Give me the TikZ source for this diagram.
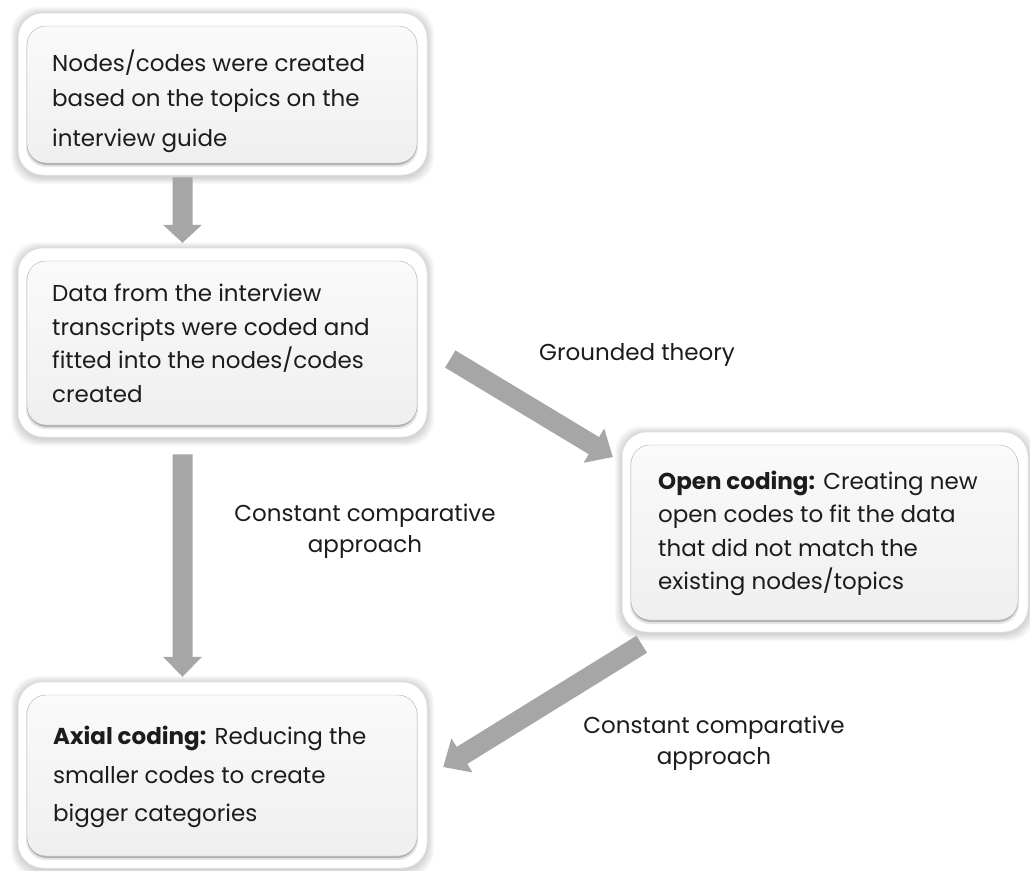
\documentclass[tikz,border=0pt]{standalone}
\usepackage{fontspec}
\setmainfont{Poppins}
\usetikzlibrary{calc}

\definecolor{arrowgray}{HTML}{A6A6A6}
\definecolor{paneltop}{HTML}{FAFAFA}
\definecolor{panelbot}{HTML}{EFEFEF}
\definecolor{inkgray}{HTML}{1C1C1C}

\tikzset{
  x=1pt, y=-1pt,
  frame/.style={rectangle, rounded corners=25pt, fill=white, draw=black!12,
    line width=0.5pt, inner sep=0pt},
  panel/.style={rectangle, rounded corners=19pt, top color=paneltop,
    bottom color=panelbot, draw=black!30, line width=0.4pt, inner sep=0pt},
  body/.style={anchor=north west, align=left, inner sep=0pt, text=inkgray},
  label/.style={align=center, inner sep=0pt, text=inkgray,
    font=\fontsize{23}{31}\selectfont},
}

% A card: soft outer glow, white frame node #1, shaded inner panel node #1p.
% Arguments: name, x1, y1, x2, y2 of the frame.
\newcommand\card[5]{%
  \foreach \g in {1,...,7}
    \fill[black, opacity=0.025, rounded corners=26pt]
      (#2-\g,#3-\g+1) rectangle (#4+\g,#5+\g+2);
  \pgfmathsetmacro\cw{#4-#2}\pgfmathsetmacro\ch{#5-#3}
  \node[frame, minimum width=\cw pt, minimum height=\ch pt] (#1)
    at ({(#2+#4)/2},{(#3+#5)/2}) {};
  \fill[black, opacity=0.10, rounded corners=20pt]
    (#2+8,#3+14) rectangle (#4-9,#5-8);
  \fill[black, opacity=0.22, rounded corners=20pt]
    (#2+9,#3+14) rectangle (#4-10,#5-10);
  \pgfmathsetmacro\pw{#4-#2-19}\pgfmathsetmacro\ph{#5-#3-25}
  \node[panel, minimum width=\pw pt, minimum height=\ph pt] (#1p)
    at ({(#2+#4)/2-0.5},{(#3+#5)/2+0.5}) {};
}

% A block arrow from #1 (tail centre) to #2 (tip); #3 head length, #4 half head width.
\newcommand\fatarrow[4]{%
  \coordinate (fa-base) at ($(#2)!#3pt!(#1)$);
  \fill[arrowgray]
    ($(#1)!10pt!90:(#2)$) -- ($(fa-base)!10pt!90:(#2)$) --
    ($(fa-base)!#4pt!90:(#2)$) -- (#2) --
    ($(fa-base)!#4pt!-90:(#2)$) -- ($(fa-base)!10pt!-90:(#2)$) --
    ($(#1)!10pt!-90:(#2)$) -- cycle;
}

\begin{document}
\begin{tikzpicture}
  \fill[white] (0,0) rectangle (1030,870);
  \useasboundingbox (0,0) rectangle (1030,870);

  % cards
  \card{b1}{18}{13}{427}{175}
  \card{b2}{18}{248}{427}{437}
  \card{b3}{622}{432}{1028}{632}
  \card{b4}{18}{682}{427}{868}

  % card texts
  \node[body, font=\fontsize{23}{35}\selectfont] (t1) at (52,50)
    {Nodes/codes were created\\based on the topics on the\\[5pt]interview guide};
  \node[body, font=\fontsize{23}{33.5}\selectfont] (t2) at (52,284)
    {Data from the interview\\transcripts were coded and\\fitted into the nodes/codes\\created};
  \node[body, font=\fontsize{23}{33.3}\selectfont] (t3) at (658,471)
    {\textbf{Open coding:} Creating new\\open codes to fit the data\\that did not match the\\existing nodes/topics};
  \node[body, font=\fontsize{23}{38.5}\selectfont] (t4) at (53,726)
    {\textbf{Axial coding:} Reducing the\\smaller codes to create\\bigger categories};

  % connector end points
  \coordinate (a1s) at ($(b1.south)+(-40,2)$);
  \coordinate (a1e) at ($(b2.north)+(-40,-5)$);
  \coordinate (a2s) at ($(b2.south)+(-40,17)$);
  \coordinate (a2e) at ($(b4.north)+(-40,-5)$);
  \coordinate (a3s) at ($(b2.east)+(23,16.5)$);
  \coordinate (a3e) at ($(b3.west)+(-9,-75)$);
  \coordinate (a4s) at ($(b3.south west)+(20,12)$);
  \coordinate (a4e) at ($(b4.east)+(16,-8)$);

  % connectors
  \fatarrow{a1s}{a1e}{18}{19.5}
  \fatarrow{a2s}{a2e}{20}{19.5}
  \fatarrow{a3s}{a3e}{22}{20}
  \fatarrow{a4s}{a4e}{22}{20}

  % connector labels
  \node[label] (l1) at (637,355) {Grounded theory};
  \node[label] (l2) at (365,531.5) {Constant comparative\\approach};
  \node[label] (l3) at (714,743) {Constant comparative\\approach};
\end{tikzpicture}
\end{document}
